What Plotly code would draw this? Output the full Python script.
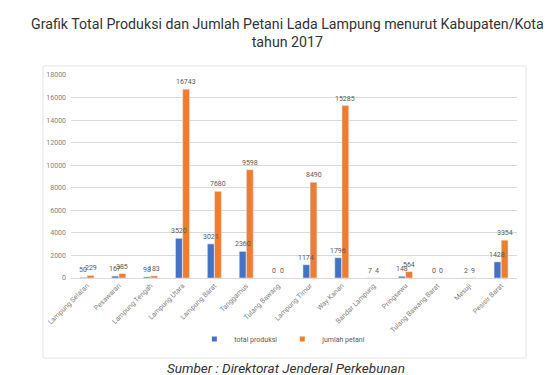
import plotly.graph_objects as go

categories = ["Lampung Selatan", "Pesawaran", "Lampung Tengah", "Lampung Utara", "Lampung Barat",
              "Tanggamus", "Tulang Bawang", "Lampung Timur", "Way Kanan", "Bandar Lampung",
              "Pringsewu", "Tulang Bawang Barat", "Mesuji", "Pesisir Barat"]
total_produksi = [50, 167, 98, 3520, 3021, 2360, 0, 1174, 1796, 7, 148, 0, 2, 1428]
jumlah_petani = [229, 385, 183, 16743, 7680, 9598, 0, 8490, 15285, 4, 564, 0, 9, 3354]
y_ticks = [0, 2000, 4000, 6000, 8000, 10000, 12000, 14000, 16000, 18000]

W, H = 558, 375
L, R, T, B = 63, 49, 67, 105
BLUE, ORANGE = "#4472C4", "#ED7D31"
BARGAP, GROUPGAP = 0.55, 0.05

fig = go.Figure()
fig.add_trace(go.Bar(x=categories, y=total_produksi, name="total produksi",
                     marker_color=BLUE, showlegend=False))
fig.add_trace(go.Bar(x=categories, y=jumlah_petani, name="jumlah petani",
                     marker_color=ORANGE, showlegend=False))
# legend entries with small square markers
fig.add_trace(go.Scatter(x=[None], y=[None], mode="markers", name="total produksi",
                         marker=dict(symbol="square", size=5, color=BLUE)))
fig.add_trace(go.Scatter(x=[None], y=[None], mode="markers", name="jumlah petani",
                         marker=dict(symbol="square", size=5, color=ORANGE)))

# data labels drawn on top of all bars, centred on each bar
cat_px = (W - L - R) / len(categories)
bar_px = cat_px * (1 - BARGAP) / 2
for series, sign in ((total_produksi, -1), (jumlah_petani, 1)):
    for c, v in zip(categories, series):
        fig.add_annotation(x=c, y=v, text=str(v), xref="x", yref="y", showarrow=False,
                           xanchor="center", yanchor="bottom", xshift=sign * bar_px / 2,
                           yshift=1, font=dict(size=7, color="#595959"))

fig.update_layout(
    width=W, height=H,
    margin=dict(l=L, r=R, t=T, b=B, autoexpand=False),
    paper_bgcolor="white", plot_bgcolor="white",
    barmode="group", bargap=BARGAP, bargroupgap=GROUPGAP,
    font=dict(family="Roboto, sans-serif", color="#595959"),
    showlegend=True,
    legend=dict(orientation="h", x=0.475, xanchor="center", y=-(331 - 270) / (H - T - B),
                yanchor="middle", font=dict(size=7, color="#595959"),
                itemwidth=30, bgcolor="rgba(0,0,0,0)", tracegroupgap=0),
)
fig.update_xaxes(tickangle=-45, tickfont=dict(size=7, color="#7f7f7f"),
                 showline=True, linecolor="#d9d9d9", linewidth=1, ticks="")
fig.update_yaxes(range=[0, 18000], tickvals=y_ticks, ticktext=[str(v) for v in y_ticks],
                 tickfont=dict(size=7, color="#7f7f7f"),
                 gridcolor="#d9d9d9", gridwidth=1, zeroline=False, showline=False,
                 ticklabelstandoff=4)

# outer chart box
fig.add_shape(type="rect", xref="paper", yref="paper",
              x0=(35 - L) / (W - L - R), x1=(518 - L) / (W - L - R),
              y0=(H - B - 350) / (H - T - B), y1=(H - B - 58) / (H - T - B),
              line=dict(color="#e3e3e3", width=1), fillcolor="rgba(0,0,0,0)", layer="below")

fig.add_annotation(text="Grafik Total Produksi dan Jumlah Petani Lada Lampung menurut Kabupaten/Kota<br>tahun 2017",
                   xref="paper", yref="paper", x=(279 - L) / (W - L - R),
                   y=(H - B - 25) / (H - T - B), xanchor="center", yanchor="middle",
                   showarrow=False, font=dict(size=14.2, color="#333333", family="Roboto, sans-serif"))
fig.add_annotation(text="<i>Sumber : Direktorat Jenderal Perkebunan</i>",
                   xref="paper", yref="paper", x=(278 - L) / (W - L - R),
                   y=(H - B - 360) / (H - T - B), xanchor="center", yanchor="middle",
                   showarrow=False, font=dict(size=13.5, color="#333333", family="Roboto, sans-serif"))

fig.write_html("out.html")
